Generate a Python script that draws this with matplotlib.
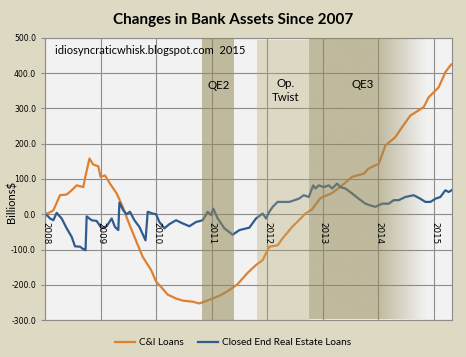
import numpy as np
import matplotlib
matplotlib.use('Agg')
import matplotlib.pyplot as plt
from matplotlib.colors import to_rgb

# C&I loans, change since 2007 (billions $)
ci_years = [2008.00, 2008.08, 2008.15, 2008.27, 2008.39, 2008.48, 2008.57, 2008.69, 2008.72,
            2008.80, 2008.87, 2008.96, 2009.00, 2009.08, 2009.17, 2009.29, 2009.40, 2009.49,
            2009.61, 2009.76, 2009.91, 2010.00, 2010.09, 2010.21, 2010.36, 2010.48, 2010.66,
            2010.78, 2010.87, 2011.02, 2011.17, 2011.32, 2011.47, 2011.65, 2011.80, 2011.92,
            2012.04, 2012.19, 2012.27, 2012.45, 2012.63, 2012.69, 2012.81, 2012.96, 2013.17,
            2013.35, 2013.53, 2013.74, 2013.83, 2014.01, 2014.13, 2014.31, 2014.43, 2014.58,
            2014.82, 2014.91, 2015.00, 2015.09, 2015.21, 2015.30, 2015.32]
ci_vals = [0, 5, 11, 54, 56, 68, 82, 77, 102,
           158, 141, 136, 106, 110, 87, 59, 21, -17,
           -64, -121, -158, -191, -206, -228, -239, -245, -248,
           -253, -248, -239, -229, -215, -198, -166, -144, -130,
           -92, -88, -70, -36, -8, 2, 14, 46, 60,
           82, 106, 115, 130, 143, 195, 219, 247, 280,
           304, 332, 346, 360, 403, 422, 425]

# Closed end real estate loans
re_years = [2008.00, 2008.05, 2008.09, 2008.15, 2008.21, 2008.30, 2008.39, 2008.48, 2008.54,
            2008.63, 2008.70, 2008.73, 2008.75, 2008.84, 2008.93, 2009.02, 2009.11, 2009.20,
            2009.26, 2009.32, 2009.34, 2009.41, 2009.47, 2009.53, 2009.61, 2009.70, 2009.81,
            2009.85, 2009.94, 2010.00, 2010.06, 2010.15, 2010.24, 2010.36, 2010.48, 2010.60,
            2010.72, 2010.84, 2010.93, 2010.99, 2011.03, 2011.11, 2011.23, 2011.38, 2011.50,
            2011.68, 2011.80, 2011.92, 2011.98, 2012.04, 2012.10, 2012.19, 2012.40, 2012.57,
            2012.66, 2012.75, 2012.83, 2012.87, 2012.93, 2013.02, 2013.11, 2013.17, 2013.26,
            2013.32, 2013.41, 2013.53, 2013.65, 2013.77, 2013.86, 2013.95, 2014.07, 2014.19,
            2014.28, 2014.37, 2014.49, 2014.64, 2014.76, 2014.85, 2014.94, 2015.03, 2015.12,
            2015.21, 2015.27, 2015.32]
re_vals = [0, -5, -12, -17, 4, -12, -40, -64, -91,
           -92, -100, -102, -6, -17, -19, -40, -34, -12,
           -36, -45, 33, 11, 0, 7, -17, -36, -74,
           7, 2, 0, -22, -40, -28, -17, -26, -34,
           -22, -17, 7, -3, 16, -12, -40, -58, -45,
           -38, -12, 2, -12, 7, 21, 35, 35, 44,
           54, 49, 82, 73, 82, 77, 82, 73, 87,
           77, 73, 59, 44, 30, 25, 21, 30, 30,
           40, 40, 49, 54, 44, 35, 35, 44, 49,
           68, 63, 68]

year_ticks = [2008, 2009, 2010, 2011, 2012, 2013, 2014, 2015]
y_ticks = [-300, -200, -100, 0, 100, 200, 300, 400, 500]

# Fed programs: (label, start, end)
qe2 = ('QE2', 2010.83, 2011.41)
twist = ('Op.\nTwist', 2011.82, 2012.76)
qe3 = ('QE3', 2012.76, 2014.0)
qe3_fade_end = 2014.88

FIG_BG = '#ddd9c3'
AX_BG = '#f2f2f2'
GRID = '#8c8c8c'

fig = plt.figure(figsize=(4.66, 3.57), dpi=100, facecolor=FIG_BG)
ax = fig.add_axes((0.0966, 0.1036, 0.8734, 0.79), facecolor=AX_BG)

ax.plot(ci_years, ci_vals, color='#e0802f', lw=1.6, zorder=2, label='C&I Loans')
ax.plot(re_years, re_vals, color='#2f5b8f', lw=1.6, zorder=2, label='Closed End Real Estate Loans')

x0, x1 = 2008.0, 2015.33

# shaded periods drawn on top of the lines, semi transparent
ax.axvspan(qe2[1], qe2[2], color=(149/255, 138/255, 89/255), alpha=0.55, lw=0, zorder=3)
ax.axvspan(twist[1], twist[2], ymax=0.992, color=(179/255, 168/255, 110/255), alpha=0.35, lw=0, zorder=3)

# QE3 with a fade out on the right
xs = np.linspace(qe3[1], qe3_fade_end, 400)
alpha = np.clip((qe3_fade_end - xs) / (qe3_fade_end - qe3[2]), 0, 1) * 0.55
rgba = np.zeros((1, len(xs), 4))
rgba[..., :3] = to_rgb('#958a59')
rgba[0, :, 3] = alpha
ax.imshow(rgba, extent=(qe3[1], qe3_fade_end, -297, 500), aspect='auto',
          interpolation='bilinear', zorder=3)
ax.set_xlim(x0, x1)
ax.set_ylim(-300, 500)

ax.set_yticks(y_ticks)
ax.set_yticklabels([f'{v:.1f}' for v in y_ticks], fontsize=5.6, family='DejaVu Sans')
ax.set_xticks(year_ticks)
ax.set_xticklabels([])
ax.tick_params(axis='y', length=3, width=0.8, color=GRID, pad=3.5)
ax.tick_params(axis='x', length=0)
ax.grid(True, color=GRID, lw=0.8, zorder=1)
ax.set_axisbelow(True)
for s in ax.spines.values():
    s.set_color(GRID)
    s.set_linewidth(0.8)

# year labels sit just under the zero line
for yr in year_ticks:
    ax.annotate(str(yr), (yr, 0), xytext=(0.5, -5.5), textcoords='offset points',
                rotation=-90, ha='center', va='top', fontsize=6.3,
                family='DejaVu Sans', zorder=4)

ax.text(0.024, 0.955, 'idiosyncraticwhisk.blogspot.com  2015', transform=ax.transAxes,
        fontsize=8.0, family='Lato', va='center', ha='left', zorder=5)
ax.text((qe2[1] + qe2[2]) / 2, 365, qe2[0], ha='center', va='center',
        fontsize=8.3, family='Lato', zorder=5)
ax.text(2013.72, 368, qe3[0], ha='center', va='center', fontsize=8.3, family='Lato', zorder=5)
ax.text(2012.34, 351, twist[0], ha='center', va='center', fontsize=8.3, family='Lato',
        linespacing=1.25, zorder=5)

fig.text(0.5, 0.943, 'Changes in Bank Assets Since 2007', ha='center', va='center',
         fontsize=11, fontweight='bold', family='Lato')
fig.text(0.025, 0.434, 'Billions$', rotation=90, ha='center', va='center',
         fontsize=8, family='Lato')

fig.legend(loc='center', bbox_to_anchor=(0.5, 0.04), ncol=2, frameon=False,
           prop={'family': 'Lato', 'size': 7.2}, handlelength=2.0, columnspacing=1.4,
           handletextpad=0.4)

fig.savefig('out.png', dpi=100, facecolor=FIG_BG)
